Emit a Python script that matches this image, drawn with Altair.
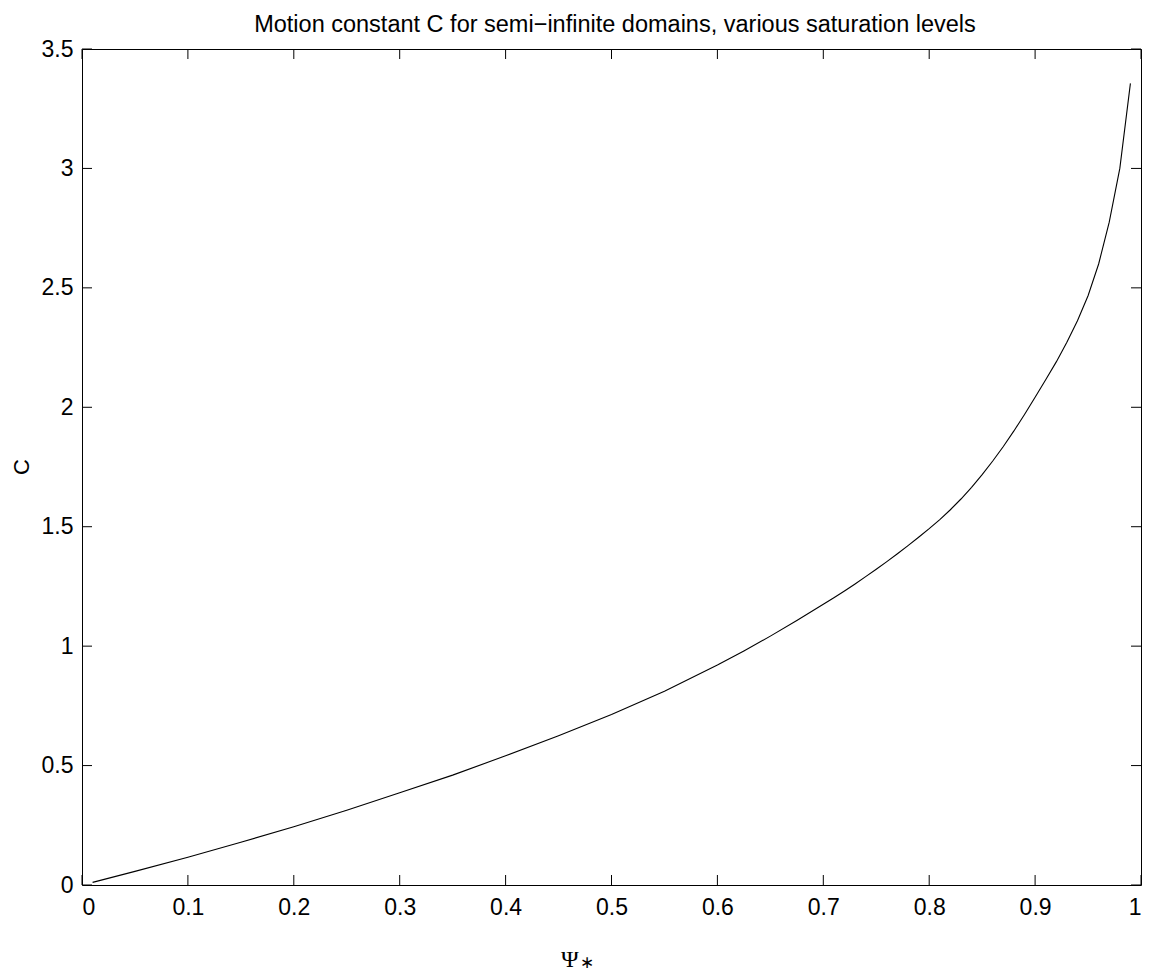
import altair as alt
import pandas as pd

# Data
psi = [0.01, 0.05, 0.10, 0.15, 0.20, 0.25, 0.30, 0.35, 0.40, 0.45, 0.50,
       0.55, 0.60, 0.625, 0.65, 0.675, 0.70, 0.71, 0.72, 0.73, 0.74, 0.75,
       0.76, 0.77, 0.78, 0.79, 0.80, 0.81, 0.82, 0.83, 0.84, 0.85,
       0.86, 0.87, 0.88, 0.89, 0.90, 0.91, 0.92, 0.93, 0.94, 0.95,
       0.96, 0.97, 0.98, 0.99]
c_vals = [0.011, 0.057, 0.116, 0.179, 0.244, 0.313, 0.386, 0.460, 0.541, 0.625, 0.714,
          0.811, 0.921, 0.980, 1.042, 1.107, 1.175, 1.2025, 1.231, 1.2605, 1.291, 1.322,
          1.354, 1.387, 1.421, 1.456, 1.492, 1.530, 1.571, 1.616, 1.665, 1.718,
          1.775, 1.836, 1.901, 1.970, 2.042, 2.115, 2.190, 2.272, 2.362, 2.467,
          2.600, 2.775, 3.000, 3.356]

x_ticks = [0, 0.1, 0.2, 0.3, 0.4, 0.5, 0.6, 0.7, 0.8, 0.9, 1]
y_ticks = [0, 0.5, 1, 1.5, 2, 2.5, 3, 3.5]

TITLE = "Motion constant C for semi\u2212infinite domains, various saturation levels"
YLABEL = "C"
XLABEL_MAIN = "\u03a8"
XLABEL_SUB = "\u2217"

W, H = 1059, 836
SANS = "Liberation Sans"
SERIF = "Liberation Serif"

xs = alt.Scale(domain=[0, 1], nice=False, zero=False)
ys = alt.Scale(domain=[0, 3.5], nice=False, zero=False)

df = pd.DataFrame({"psi": psi, "C": c_vals})
xt = pd.DataFrame({"psi": x_ticks})
yt = pd.DataFrame({"C": y_ticks})

axis_common = dict(domain=False, ticks=False, grid=False, title=None,
                   labelFont=SANS, labelFontSize=23, labelColor="black",
                   format="~g")
x_axis = alt.Axis(values=x_ticks, labelPadding=11, **axis_common)
y_axis = alt.Axis(values=y_ticks, labelPadding=9, **axis_common)

line = alt.Chart(df).mark_line(color="black", strokeWidth=1.1).encode(
    x=alt.X("psi:Q", scale=xs, axis=x_axis),
    y=alt.Y("C:Q", scale=ys, axis=y_axis),
)

tick_len = 10
bottom = alt.Chart(xt).mark_rule(color="black", strokeWidth=1).encode(
    x=alt.X("psi:Q", scale=xs, axis=x_axis), y=alt.value(H), y2=alt.value(H - tick_len))
top = alt.Chart(xt).mark_rule(color="black", strokeWidth=1).encode(
    x=alt.X("psi:Q", scale=xs, axis=x_axis), y=alt.value(0), y2=alt.value(tick_len))
left = alt.Chart(yt).mark_rule(color="black", strokeWidth=1).encode(
    y=alt.Y("C:Q", scale=ys, axis=y_axis), x=alt.value(0), x2=alt.value(tick_len))
right = alt.Chart(yt).mark_rule(color="black", strokeWidth=1).encode(
    y=alt.Y("C:Q", scale=ys, axis=y_axis), x=alt.value(W), x2=alt.value(W - tick_len))

title = alt.Chart(pd.DataFrame({"t": [TITLE]})).mark_text(
    font=SANS, fontSize=23.5, color="black", align="center", baseline="alphabetic"
).encode(text="t:N", x=alt.value(533), y=alt.value(-17))

ylab = alt.Chart(pd.DataFrame({"t": [YLABEL]})).mark_text(
    font=SANS, fontSize=22, color="black", align="center", baseline="middle", angle=270
).encode(text="t:N", x=alt.value(-60), y=alt.value(418))

xlab = alt.Chart(pd.DataFrame({"t": [XLABEL_MAIN]})).mark_text(
    font=SERIF, fontSize=24, color="black", align="left", baseline="alphabetic"
).encode(text="t:N", x=alt.value(479), y=alt.value(918))

xsub = alt.Chart(pd.DataFrame({"t": [XLABEL_SUB]})).mark_text(
    font=SERIF, fontSize=17, color="black", align="left", baseline="alphabetic"
).encode(text="t:N", x=alt.value(498), y=alt.value(919))

chart = alt.layer(line, bottom, top, left, right, title, ylab, xlab, xsub).properties(
    width=W, height=H,
    autosize=alt.AutoSizeParams(type="none"),
    padding={"left": 74, "top": 41, "right": 4, "bottom": 95},
    background="white",
).configure_view(stroke="black", strokeWidth=1)

chart.save("out.html", embed_options={"renderer": "svg", "actions": False})
